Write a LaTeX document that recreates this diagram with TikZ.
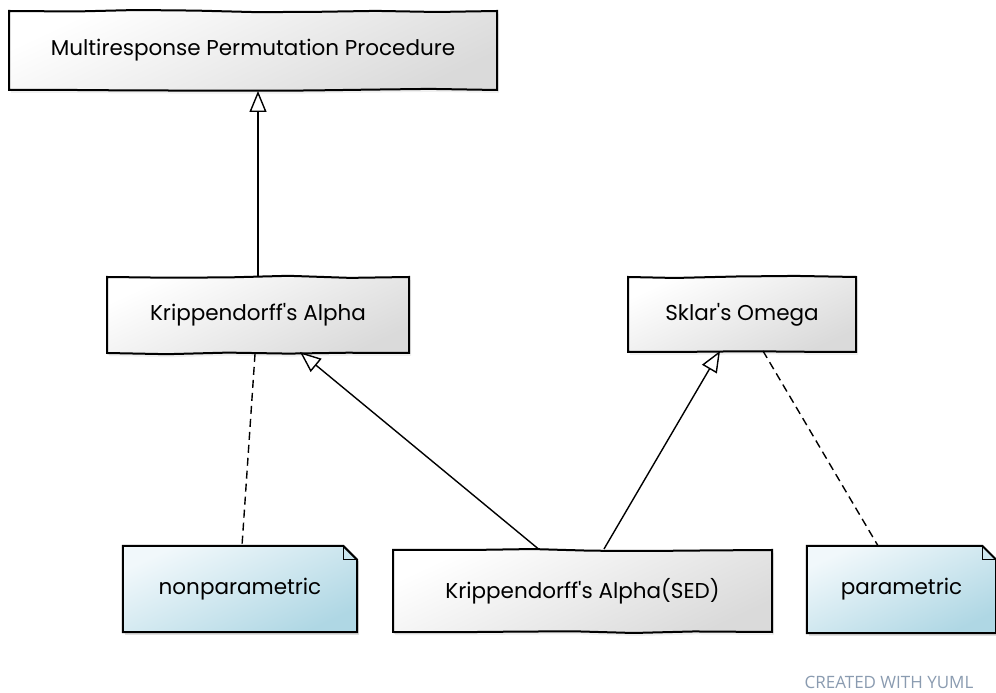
\documentclass[tikz,border=0pt]{standalone}
\usepackage{fontspec}
\setmainfont{Poppins}[Ligatures=TeXOff]
\newfontfamily\footfont{Open Sans}
\usepackage{tikz}
\usetikzlibrary{arrows, arrows.meta, calc, shadows, backgrounds, decorations.pathmorphing}
\definecolor{boxdark}{HTML}{DADADA}
\definecolor{notelight}{HTML}{F1F8FB}
\definecolor{notedark}{HTML}{AFD7E4}
\definecolor{yumlgray}{HTML}{8A9BB0}

\begin{document}
\pgfmathsetseed{11}
\begin{tikzpicture}[x=1pt,y=1pt,font=\fontsize{21.5}{25}\selectfont,
    >={Triangle[length=21pt,width=17pt,fill=white]}]
  \tikzstyle{sketch}=[decorate,decoration={random steps,segment length=60pt,amplitude=1.4pt}]
  \tikzstyle{class}=[draw,line width=2pt,sketch,top color=white,bottom color=boxdark,
    shading angle=25,drop shadow={opacity=0.12,shadow xshift=2pt,shadow yshift=-3pt}]
  \tikzstyle{note}=[inner sep=0pt]
  \tikzstyle{link}=[line width=1.4pt]
  \tikzstyle{dep}=[link,dash pattern=on 8pt off 5pt]

  \useasboundingbox (0,0) rectangle (996,693);

  \node[class,minimum width=488,minimum height=79] (mpp)    at (253,642.5) {Multiresponse Permutation Procedure};
  \node[class,minimum width=302,minimum height=76] (ka)     at (258,378)   {Krippendorff's Alpha};
  \node[class,minimum width=228,minimum height=75] (so)     at (742,378.5) {Sklar's Omega};
  \node[class,minimum width=379,minimum height=82] (ka_sed) at (582.5,102) {Krippendorff's Alpha(SED)};
  \node[note,minimum width=234,minimum height=86] (np)      at (240,104)   {nonparametric};
  \node[note,minimum width=189,minimum height=87] (pm)      at (901.5,103.5) {parametric};

  % notes with folded corner
  \begin{pgfonlayer}{background}
    \foreach \n in {np,pm} {
      \fill[black,opacity=0.12] ($(\n.south west)+(2,-3)$) rectangle ($(\n.north east)+(2,-15)$);
      \draw[line width=2pt,top color=notelight,bottom color=notedark,shading angle=25]
        (\n.north west) -- ($(\n.north east)+(-14,0)$) -- ($(\n.north east)+(0,-14)$)
        -- (\n.south east) -- (\n.south west) -- cycle;
      \draw[line width=1.2pt] ($(\n.north east)+(-14,0)$) |- ($(\n.north east)+(0,-14)$);
    }
  \end{pgfonlayer}

  \draw[link,->] (ka.north) -- (ka.north |- mpp.south);
  \draw[dep] ($(ka.south)+(-3,0)$) -- ($(np.north)+(2,0)$);
  \draw[link,->] ($(ka_sed.north)+(-44,0)$) -- ($(ka.south)+(42,2)$);
  \draw[link,->] ($(ka_sed.north)+(21.5,0)$) -- ($(so.south)+(-22,2)$);
  \draw[dep] ($(so.south)+(21,2)$) -- ($(pm.north)+(-23.5,0)$);

  \node[font=\footfont\fontsize{17}{20}\selectfont,text=yumlgray] (credit) at (889,11) {CREATED WITH YUML};
\end{tikzpicture}
\end{document}
